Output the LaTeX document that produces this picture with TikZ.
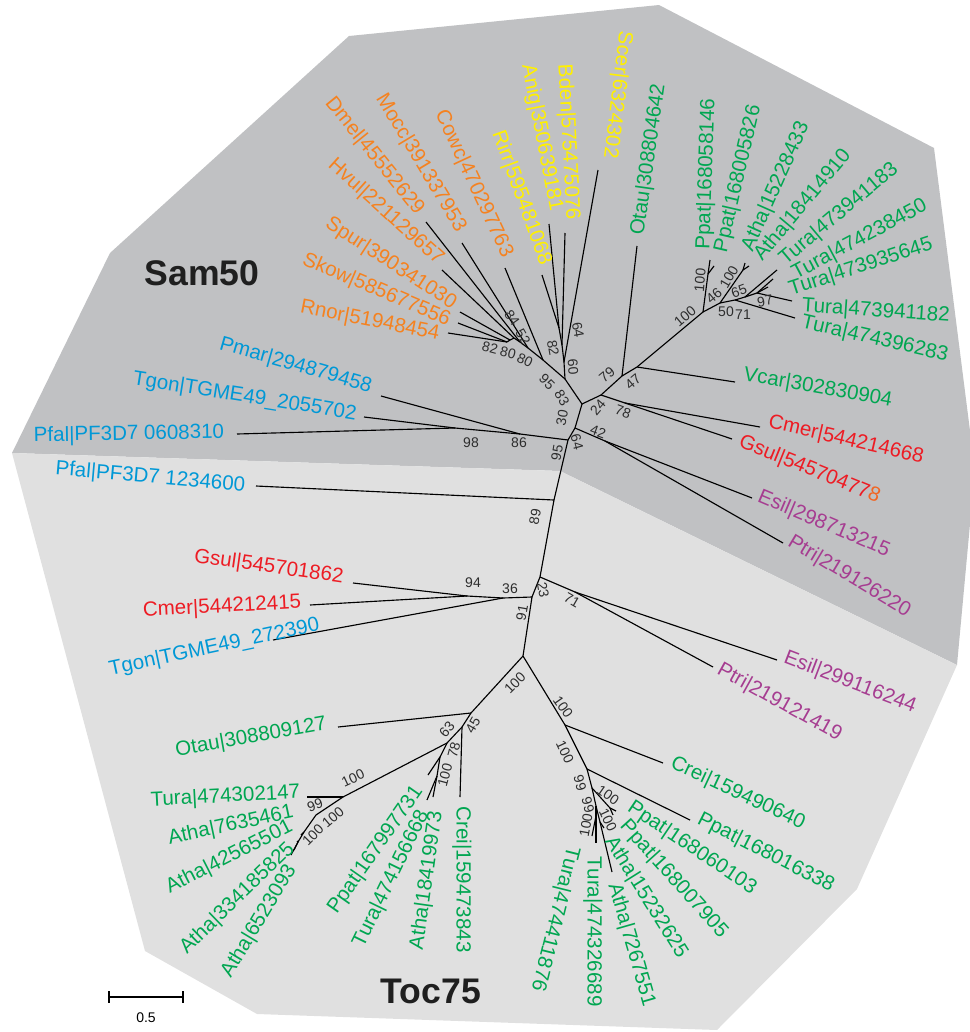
\documentclass[tikz,border=0pt]{standalone}
\usepackage{fontspec}
\setmainfont{Liberation Sans}
\definecolor{samgray}{RGB}{192,193,195}
\definecolor{tocgray}{RGB}{224,224,224}
\definecolor{orng}{RGB}{245,130,32}
\definecolor{yelw}{RGB}{255,240,0}
\definecolor{grn}{RGB}{0,166,81}
\definecolor{blu}{RGB}{0,152,214}
\definecolor{rd}{RGB}{237,28,36}
\definecolor{rdo}{RGB}{242,101,34}
\definecolor{purp}{RGB}{166,61,145}
\definecolor{bootgray}{RGB}{45,45,45}
\begin{document}
\begin{tikzpicture}[
                            x=0.75pt, y=-0.75pt,
                            line width=0.85pt,
                            lab/.style={font=\fontsize{15.4}{16}\selectfont, inner sep=1pt},
                            bs/.style={font=\fontsize{10.5}{11}\selectfont, text=bootgray, inner sep=0pt},
                            clade/.style={font=\bfseries\fontsize{26.7}{28}\selectfont, text=black!88}
                        ]
                        \useasboundingbox (0,0) rectangle (970,1032);
                        % Background
                        \fill[samgray] (12,453) -- (110,253) -- (349,36) -- (659,5) -- (934,148) -- (975,470) -- (957,665) -- (560,471) -- cycle;
                        \fill[tocgray] (12,453) -- (560,471) -- (957,665) -- (857,889) -- (717,1030) -- (257,1014) -- (145,951) -- cycle;
                        \node[clade] (samname) at (202,273) {Sam50};
                        \node[clade] (tocname) at (431,991) {Toc75};

                        % Inner nodes
                        \coordinate (sam) at (582,404);
                        \coordinate (opf) at (565,379);
                        \coordinate (opi) at (543,360);
                        \coordinate (opi1) at (528,348);
                        \coordinate (opi2) at (520,342);
                        \coordinate (opi3) at (514,338);
                        \coordinate (opi4) at (510,340);
                        \coordinate (opi5) at (507,342);
                        \coordinate (fun1) at (564,362);
                        \coordinate (fun2) at (562,345);
                        \coordinate (fun3) at (559,328);
                        \coordinate (arc) at (601,395);
                        \coordinate (grn0) at (622,376);
                        \coordinate (grn1) at (637,367);
                        \coordinate (grn2) at (703,312);
                        \coordinate (grn3) at (708,274);
                        \coordinate (grn4) at (720,303);
                        \coordinate (grn5) at (743,270);
                        \coordinate (grn6) at (735,300);
                        \coordinate (grn7) at (745,297);
                        \coordinate (grn8) at (757,293);
                        \coordinate (red) at (625,403);
                        \coordinate (str) at (575,428);
                        \coordinate (str1) at (605,441);
                        \coordinate (alv) at (568,440);
                        \coordinate (alv1) at (520,434);
                        \coordinate (alv2) at (455,428);
                        \coordinate (mid) at (554,500);
                        \coordinate (toc) at (540,577);
                        \coordinate (str2) at (575,592);
                        \coordinate (toc1) at (532,597);
                        \coordinate (rda) at (503,598);
                        \coordinate (rda1) at (467,596);
                        \coordinate (pla) at (523,656);
                        \coordinate (pla1) at (471,713);
                        \coordinate (pla2) at (462,727);
                        \coordinate (pla3) at (447,743);
                        \coordinate (pla4) at (440,757);
                        \coordinate (pla4b) at (437,776);
                        \coordinate (pla5) at (343,797);
                        \coordinate (pla6) at (316,815);
                        \coordinate (pla7) at (304,832);
                        \coordinate (pla8) at (298,842);
                        \coordinate (chl) at (565,725);
                        \coordinate (chl1) at (587,769);
                        \coordinate (chl2) at (592,788);
                        \coordinate (chl3) at (610,808);
                        \coordinate (chl4) at (596,806);
                        \coordinate (chl5) at (600,822);
                        \coordinate (chl6) at (596,816);

                        % Leaf ends
                        \coordinate (tDmel) at (426,222);
                        \coordinate (tMocc) at (462,243);
                        \coordinate (tCowc) at (505,268);
                        \coordinate (tHvul) at (442,270);
                        \coordinate (tSpur) at (460,312);
                        \coordinate (tSkow) at (458,323);
                        \coordinate (tRnor) at (448,333);
                        \coordinate (tRirr) at (542,275);
                        \coordinate (tAnig) at (549,224);
                        \coordinate (tBden) at (565,233);
                        \coordinate (tScer) at (598,170);
                        \coordinate (tOtauS) at (637,246);
                        \coordinate (tPpatA) at (710,260);
                        \coordinate (tPpatB) at (714,266);
                        \coordinate (tAthaA) at (745,263);
                        \coordinate (tAthaB) at (749,266);
                        \coordinate (tTuraA) at (777,270);
                        \coordinate (tTuraB) at (773,279);
                        \coordinate (tTuraC) at (768,287);
                        \coordinate (tTuraD) at (792,301);
                        \coordinate (tTuraE) at (795,318);
                        \coordinate (tVcar) at (735,382);
                        \coordinate (tCmerS) at (760,427);
                        \coordinate (tGsulS) at (732,439);
                        \coordinate (tEsilS) at (752,498);
                        \coordinate (tPtriS) at (783,543);
                        \coordinate (tPmar) at (381,396);
                        \coordinate (tTgonS) at (364,417);
                        \coordinate (tPfalA) at (237,434);
                        \coordinate (tPfalB) at (256,486);
                        \coordinate (tEsilT) at (777,660);
                        \coordinate (tPtriT) at (713,667);
                        \coordinate (tTgonT) at (273,640);
                        \coordinate (tGsulT) at (353,583);
                        \coordinate (tCmerT) at (310,605);
                        \coordinate (tOtauT) at (338,727);
                        \coordinate (tCreiA) at (460,797);
                        \coordinate (tPpatC) at (428,775);
                        \coordinate (tTuraG) at (427,800);
                        \coordinate (tAthaG) at (433,797);
                        \coordinate (tTuraF) at (307,797);
                        \coordinate (tAthaC) at (301,835);
                        \coordinate (tAthaD) at (297,841);
                        \coordinate (tAthaE) at (294,850);
                        \coordinate (tAthaF) at (291,855);
                        \coordinate (tCreiB) at (663,763);
                        \coordinate (tPpatD) at (690,820);
                        \coordinate (tPpatE) at (616,811);
                        \coordinate (tPpatF) at (613,815);
                        \coordinate (tAthaH) at (604,828);
                        \coordinate (tAthaI) at (612,872);
                        \coordinate (tTuraH) at (596,843);
                        \coordinate (tTuraI) at (592,836);

                        % Connections Sam50
                        \draw (sam) -- (opf);
                        \draw (opf) -- (opi);
                        \draw (opi) -- (tCowc);
                        \draw (opi) -- (opi1);
                        \draw (opi1) -- (tMocc);
                        \draw (opi1) -- (opi2);
                        \draw (opi2) -- (tDmel);
                        \draw (opi2) -- (opi3);
                        \draw (opi3) -- (tHvul);
                        \draw (opi3) -- (opi4);
                        \draw (opi4) -- (tSpur);
                        \draw (opi4) -- (opi5);
                        \draw (opi5) -- (tSkow);
                        \draw (opi5) -- (tRnor);
                        \draw (opf) -- (fun1);
                        \draw (fun1) -- (tScer);
                        \draw (fun1) -- (fun2);
                        \draw (fun2) -- (tBden);
                        \draw (fun2) -- (fun3);
                        \draw (fun3) -- (tAnig);
                        \draw (fun3) -- (tRirr);
                        \draw (sam) -- (arc);
                        \draw (arc) -- (grn0);
                        \draw (grn0) -- (tOtauS);
                        \draw (grn0) -- (grn1);
                        \draw (grn1) -- (tVcar);
                        \draw (grn1) -- (grn2);
                        \draw (grn2) -- (grn3);
                        \draw (grn3) -- (tPpatA);
                        \draw (grn3) -- (tPpatB);
                        \draw (grn2) -- (grn4);
                        \draw (grn4) -- (grn5);
                        \draw (grn5) -- (tAthaA);
                        \draw (grn5) -- (tAthaB);
                        \draw (grn4) -- (grn6);
                        \draw (grn6) -- (tTuraE);
                        \draw (grn6) -- (grn7);
                        \draw (grn7) -- (tTuraA);
                        \draw (grn7) -- (grn8);
                        \draw (grn8) -- (tTuraB);
                        \draw (grn8) -- (tTuraC);
                        \draw (grn8) -- (tTuraD);
                        \draw (arc) -- (red);
                        \draw (red) -- (tCmerS);
                        \draw (red) -- (tGsulS);
                        \draw (sam) -- (str);
                        \draw (str) -- (str1);
                        \draw (str1) -- (tEsilS);
                        \draw (str1) -- (tPtriS);
                        \draw (str) -- (alv);
                        \draw (alv) -- (alv1);
                        \draw (alv1) -- (tPmar);
                        \draw (alv1) -- (alv2);
                        \draw (alv2) -- (tTgonS);
                        \draw (alv2) -- (tPfalA);
                        \draw (alv) -- (mid);
                        \draw (mid) -- (tPfalB);

                        % Connections Toc75
                        \draw (mid) -- (toc);
                        \draw (toc) -- (str2);
                        \draw (str2) -- (tEsilT);
                        \draw (str2) -- (tPtriT);
                        \draw (toc) -- (toc1);
                        \draw (toc1) -- (rda);
                        \draw (rda) -- (tTgonT);
                        \draw (rda) -- (rda1);
                        \draw (rda1) -- (tGsulT);
                        \draw (rda1) -- (tCmerT);
                        \draw (toc1) -- (pla);
                        \draw (pla) -- (pla1);
                        \draw (pla1) -- (tOtauT);
                        \draw (pla1) -- (pla2);
                        \draw (pla2) -- (tCreiA);
                        \draw (pla2) -- (pla3);
                        \draw (pla3) -- (pla4);
                        \draw (pla4) -- (tPpatC);
                        \draw (pla4) -- (pla4b);
                        \draw (pla4b) -- (tTuraG);
                        \draw (pla4b) -- (tAthaG);
                        \draw (pla3) -- (pla5);
                        \draw (pla5) -- (tTuraF);
                        \draw (pla5) -- (pla6);
                        \draw (pla6) -- (pla7);
                        \draw (pla7) -- (tAthaC);
                        \draw (pla7) -- (pla8);
                        \draw (pla8) -- (tAthaD);
                        \draw (pla8) -- (tAthaE);
                        \draw (pla8) -- (tAthaF);
                        \draw (pla) -- (chl);
                        \draw (chl) -- (tCreiB);
                        \draw (chl) -- (chl1);
                        \draw (chl1) -- (tPpatD);
                        \draw (chl1) -- (chl2);
                        \draw (chl2) -- (chl3);
                        \draw (chl3) -- (tPpatE);
                        \draw (chl3) -- (tPpatF);
                        \draw (chl2) -- (chl4);
                        \draw (chl4) -- (chl5);
                        \draw (chl5) -- (tAthaH);
                        \draw (chl5) -- (tAthaI);
                        \draw (chl4) -- (chl6);
                        \draw (chl6) -- (tTuraH);
                        \draw (chl6) -- (tTuraI);

                        % Leaf labels Sam50
                        \node[lab, text=orng, anchor=east, rotate=-51] (Dmel) at (421,214) {Dmel|45552629};
                        \node[lab, text=orng, anchor=east, rotate=-59] (Mocc) at (462,232) {Mocc|391337953};
                        \node[lab, text=orng, anchor=east, rotate=-65] (Cowc) at (508,258) {Cowc|470297763};
                        \node[lab, text=orng, anchor=east, rotate=-42] (Hvul) at (442,263) {Hvul|221129657};
                        \node[lab, text=orng, anchor=east, rotate=-33] (Spur) at (456,306) {Spur|390341030};
                        \node[lab, text=orng, anchor=east, rotate=-23] (Skow) at (451,322) {Skow|585677556};
                        \node[lab, text=orng, anchor=east, rotate=-11] (Rnor) at (441,335) {Rnor|51948454};
                        \node[lab, text=yelw, anchor=east, rotate=-70] (Rirr) at (546,266) {Rirr|595481068};
                        \node[lab, text=yelw, anchor=east, rotate=-79] (Anig) at (556,213) {Anig|350639181};
                        \node[lab, text=yelw, anchor=east, rotate=-87] (Bden) at (572,222) {Bden|575475076};
                        \node[lab, text=yelw, anchor=east, rotate=-97] (Scer) at (609,160) {Scer|6324302};
                        \node[lab, text=grn, anchor=west, rotate=82] (OtauS) at (638,237) {Otau|308804642};
                        \node[lab, text=grn, anchor=west, rotate=88] (PpatA) at (704,251) {Ppat|168058146};
                        \node[lab, text=grn, anchor=west, rotate=77] (PpatB) at (721,254) {Ppat|168005826};
                        \node[lab, text=grn, anchor=west, rotate=66] (AthaA) at (747,252) {Atha|15228433};
                        \node[lab, text=grn, anchor=west, rotate=50] (AthaB) at (757,260) {Atha|18414910};
                        \node[lab, text=grn, anchor=west, rotate=40] (TuraA) at (781,263) {Tura|473941183};
                        \node[lab, text=grn, anchor=west, rotate=28] (TuraB) at (792,276) {Tura|474238450};
                        \node[lab, text=grn, anchor=west, rotate=18] (TuraC) at (788,291) {Tura|473935645};
                        \node[lab, text=grn, anchor=west, rotate=-4] (TuraD) at (800,306) {Tura|473941182};
                        \node[lab, text=grn, anchor=west, rotate=-13] (TuraE) at (800,322) {Tura|474396283};
                        \node[lab, text=grn, anchor=west, rotate=-10] (Vcar) at (742,375) {Vcar|302830904};
                        \node[lab, text=rd, anchor=west, rotate=-13] (CmerS) at (767,422) {Cmer|544214668};
                        \node[lab, text=rd, anchor=west, rotate=-22] (GsulS) at (738,441) {Gsul|54570477\textcolor{rdo}{8}};
                        \node[lab, text=purp, anchor=west, rotate=-23] (EsilS) at (757,496) {Esil|298713215};
                        \node[lab, text=purp, anchor=west, rotate=-31] (PtriS) at (788,540) {Ptri|219126220};
                        \node[lab, text=blu, anchor=east, rotate=-16] (Pmar) at (373,388) {Pmar|294879458};
                        \node[lab, text=blu, anchor=east, rotate=-9] (TgonS) at (358,415) {Tgon|TGME49\_2055702};
                        \node[lab, text=blu, anchor=east, rotate=1] (PfalA) at (226,433) {Pfal|PF3D7 0608310};

                        % Leaf labels Toc75
                        \node[lab, text=blu, anchor=east, rotate=-5] (PfalB) at (247,486) {Pfal|PF3D7 1234600};
                        \node[lab, text=purp, anchor=west, rotate=-21] (EsilT) at (783,657) {Esil|299116244};
                        \node[lab, text=purp, anchor=west, rotate=-29] (PtriT) at (717,668) {Ptri|219121419};
                        \node[lab, text=rd, anchor=east, rotate=-8] (GsulT) at (345,578) {Gsul|545701862};
                        \node[lab, text=rd, anchor=east, rotate=3] (CmerT) at (303,603) {Cmer|544212415};
                        \node[lab, text=blu, anchor=east, rotate=12] (TgonT) at (321,625) {Tgon|TGME49\_272390};
                        \node[lab, text=grn, anchor=east, rotate=10] (OtauT) at (328,724) {Otau|308809127};
                        \node[lab, text=grn, anchor=east, rotate=3] (TuraF) at (302,793) {Tura|474302147};
                        \node[lab, text=grn, anchor=east, rotate=12] (AthaC) at (295,812) {Atha|7635461};
                        \node[lab, text=grn, anchor=east, rotate=27] (AthaD) at (293,825) {Atha|42565501};
                        \node[lab, text=grn, anchor=east, rotate=44] (AthaE) at (293,845) {Atha|334185825};
                        \node[lab, text=grn, anchor=east, rotate=59] (AthaF) at (293,865) {Atha|6523093};
                        \node[lab, text=grn, anchor=east, rotate=55] (PpatC) at (420,787) {Ppat|167997731};
                        \node[lab, text=grn, anchor=east, rotate=64] (TuraG) at (425,810) {Tura|474156668};
                        \node[lab, text=grn, anchor=east, rotate=82] (AthaG) at (437,810) {Atha|18419973};
                        \node[lab, text=grn, anchor=west, rotate=-90] (CreiA) at (462,805) {Crei|159473843};
                        \node[lab, text=grn, anchor=west, rotate=-25] (CreiB) at (670,762) {Crei|159490640};
                        \node[lab, text=grn, anchor=west, rotate=-27] (PpatD) at (697,818) {Ppat|168016338};
                        \node[lab, text=grn, anchor=west, rotate=-34] (PpatE) at (628,805) {Ppat|168060103};
                        \node[lab, text=grn, anchor=west, rotate=-48] (PpatF) at (622,822) {Ppat|168007905};
                        \node[lab, text=grn, anchor=west, rotate=-58] (AthaH) at (608,837) {Atha|15232625};
                        \node[lab, text=grn, anchor=west, rotate=-74] (AthaI) at (613,882) {Atha|7267551};
                        \node[lab, text=grn, anchor=west, rotate=-90] (TuraH) at (593,855) {Tura|474326689};
                        \node[lab, text=grn, anchor=west, rotate=-104] (TuraI) at (573,845) {Tura|474411876};

                        % Support values Sam50
                        \node[bs, rotate=-55] (b01) at (512,318) {84};
                        \node[bs, rotate=-60] (b02) at (523,337) {52};
                        \node[bs, rotate=-15] (b03) at (490,348) {82};
                        \node[bs, rotate=-15] (b04) at (508,353) {80};
                        \node[bs, rotate=-25] (b05) at (525,360) {80};
                        \node[bs, rotate=-45] (b06) at (547,382) {95};
                        \node[bs, rotate=-60] (b07) at (562,398) {83};
                        \node[bs, rotate=-80] (b08) at (553,348) {82};
                        \node[bs, rotate=-85] (b09) at (573,367) {60};
                        \node[bs, rotate=-80] (b10) at (578,330) {64};
                        \node[bs, rotate=40] (b11) at (607,375) {79};
                        \node[bs, rotate=40] (b12) at (633,382) {47};
                        \node[bs, rotate=50] (b13) at (598,407) {24};
                        \node[bs, rotate=-20] (b14) at (623,412) {78};
                        \node[bs, rotate=-20] (b15) at (598,432) {42};
                        \node[bs, rotate=80] (b16) at (562,418) {30};
                        \node[bs, rotate=-75] (b17) at (577,442) {64};
                        \node[bs, rotate=80] (b18) at (557,453) {95};
                        \node[bs] (b19) at (471,443) {98};
                        \node[bs] (b20) at (519,443) {86};
                        \node[bs, rotate=40] (b21) at (685,316) {100};
                        \node[bs, rotate=85] (b22) at (700,280) {100};
                        \node[bs, rotate=40] (b23) at (714,296) {46};
                        \node[bs, rotate=60] (b24) at (729,277) {100};
                        \node[bs, rotate=20] (b25) at (739,291) {65};
                        \node[bs] (b26) at (726,312) {50};
                        \node[bs] (b27) at (743,315) {71};
                        \node[bs, rotate=10] (b28) at (765,301) {97};

                        % Support values Toc75
                        \node[bs, rotate=80] (b29) at (535,517) {89};
                        \node[bs, rotate=-80] (b30) at (543,590) {23};
                        \node[bs, rotate=-30] (b31) at (572,600) {71};
                        \node[bs] (b32) at (473,583) {94};
                        \node[bs] (b33) at (510,589) {36};
                        \node[bs, rotate=80] (b34) at (522,613) {91};
                        \node[bs, rotate=45] (b35) at (515,683) {100};
                        \node[bs, rotate=-55] (b36) at (563,707) {100};
                        \node[bs, rotate=50] (b37) at (447,729) {63};
                        \node[bs, rotate=60] (b38) at (473,725) {45};
                        \node[bs, rotate=75] (b39) at (454,750) {78};
                        \node[bs, rotate=75] (b40) at (445,775) {100};
                        \node[bs, rotate=25] (b41) at (353,778) {100};
                        \node[bs, rotate=20] (b42) at (315,805) {99};
                        \node[bs, rotate=40] (b43) at (333,817) {100};
                        \node[bs, rotate=45] (b44) at (313,835) {100};
                        \node[bs, rotate=-65] (b45) at (565,752) {100};
                        \node[bs, rotate=-75] (b46) at (580,783) {99};
                        \node[bs, rotate=-35] (b47) at (608,795) {100};
                        \node[bs, rotate=-75] (b48) at (588,805) {99};
                        \node[bs, rotate=80] (b49) at (586,825) {100};
                        \node[bs, rotate=-65] (b50) at (608,820) {100};

                        % Scale bar
                        \coordinate (barL) at (109,997);
                        \coordinate (barR) at (183,997);
                        \draw (barL) -- (barR);
                        \draw (barL) ++(0,-6) -- ++(0,12);
                        \draw (barR) ++(0,-6) -- ++(0,12);
                        \node[font=\fontsize{10.5}{11}\selectfont] (barlab) at (146,1018) {0.5};
                    \end{tikzpicture}
\end{document}
